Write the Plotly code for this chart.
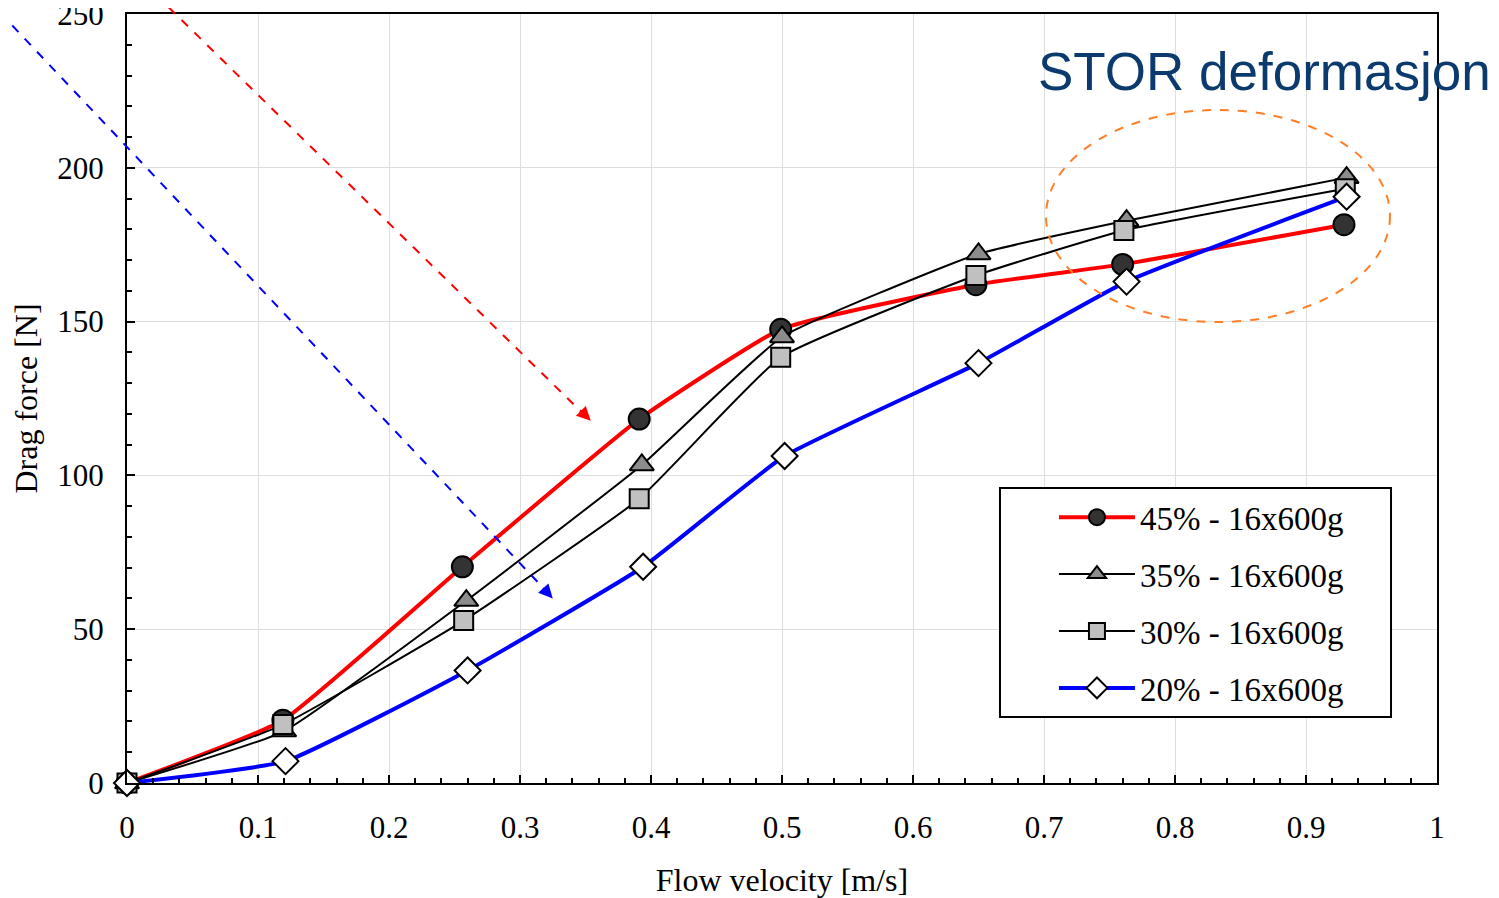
import plotly.graph_objects as go

# Data
names = ["45% - 16x600g", "35% - 16x600g", "30% - 16x600g", "20% - 16x600g"]
x45 = [0, 0.119, 0.256, 0.391, 0.499, 0.648, 0.760, 0.929]
y45 = [0, 20.4, 70.3, 118.3, 147.5, 162.0, 168.6, 181.5]
x35 = [0, 0.120, 0.259, 0.393, 0.500, 0.650, 0.763, 0.931]
y35 = [0, 16.9, 59.3, 103.4, 145.0, 172.0, 182.8, 196.8]
x30 = [0, 0.119, 0.257, 0.391, 0.499, 0.648, 0.761, 0.930]
y30 = [0, 19.0, 52.8, 92.4, 138.4, 165.0, 179.6, 193.2]
x20 = [0, 0.121, 0.260, 0.394, 0.502, 0.650, 0.763, 0.931]
y20 = [0, 7.1, 36.6, 70.3, 106.3, 136.5, 163.0, 190.6]

xs = [x45, x35, x30, x20]
ys = [y45, y35, y30, y20]
line_colors = ["#FF0000", "#000000", "#000000", "#0000FF"]
line_widths = [4, 2, 2, 4]
symbols = ["circle", "triangle-up", "square", "diamond"]
fills = ["#333333", "#8C8C8C", "#C0C0C0", "#FFFFFF"]
sizes = [21, 21, 19, 20]

serif = "Liberation Serif, Times New Roman, serif"

fig = go.Figure()
for i in range(4):
    fig.add_trace(go.Scatter(
        x=xs[i], y=ys[i], name=names[i], mode="lines+markers",
        legendgroup=f"g{i}", cliponaxis=False,
        line=dict(color=line_colors[i], width=line_widths[i], shape="spline", smoothing=0.4),
        marker=dict(symbol=symbols[i], size=sizes[i], color=fills[i],
                    line=dict(color="#000000", width=2)),
    ))

axis_common = dict(
    showline=True, linecolor="black", linewidth=2, mirror=True,
    ticks="inside", ticklen=8, tickwidth=2, tickcolor="black",
    showgrid=True, gridcolor="#DEDEDE", gridwidth=1,
    zeroline=False, automargin=False, ticklabeloverflow="allow",
    tickfont=dict(family=serif, size=31, color="black"),
)

fig.update_xaxes(
    range=[0, 1], dtick=0.1, tick0=0,
    minor=dict(dtick=0.02, ticks="inside", ticklen=5, tickwidth=2, tickcolor="black", showgrid=False),
    title=dict(text="Flow velocity [m/s]", font=dict(family=serif, size=32, color="black"), standoff=24),
    ticklabelstandoff=16,
    **axis_common,
)
fig.update_yaxes(
    range=[0, 250], dtick=50, tick0=0,
    minor=dict(dtick=10, ticks="inside", ticklen=5, tickwidth=2, tickcolor="black", showgrid=False),
    title=dict(text="Drag force [N]", font=dict(family=serif, size=32, color="black"), standoff=16),
    ticklabelstandoff=15,
    **axis_common,
)

# Dashed arrows (lines as paper shapes, heads as annotations)
fig.add_shape(type="line", xref="paper", yref="paper",
              x0=0.022, y0=1.025, x1=0.349, y1=0.479,
              line=dict(color="#FF0000", width=2, dash="dash"))
fig.add_shape(type="line", xref="paper", yref="paper",
              x0=-0.097, y0=1.002, x1=0.322, y1=0.246,
              line=dict(color="#0000FF", width=2, dash="dash"))
fig.add_annotation(xref="paper", yref="paper", x=0.354, y=0.471, ax=-12, ay=-12,
                   axref="pixel", ayref="pixel", text="", showarrow=True,
                   arrowhead=2, arrowsize=1.4, arrowwidth=2, arrowcolor="#FF0000")
fig.add_annotation(xref="paper", yref="paper", x=0.325, y=0.240, ax=-11, ay=-12,
                   axref="pixel", ayref="pixel", text="", showarrow=True,
                   arrowhead=2, arrowsize=1.4, arrowwidth=2, arrowcolor="#0000FF")

# Orange dashed ellipse
fig.add_shape(type="circle", xref="paper", yref="paper",
              x0=0.7015, x1=0.9641, y0=0.5995, y1=0.8752,
              line=dict(color="#FF7F27", width=2, dash="dash"))

# Legend frame
fig.add_shape(type="rect", xref="paper", yref="paper", layer="above",
              x0=0.6664, x1=0.9649, y0=0.0858, y1=0.3836,
              fillcolor="white", line=dict(color="black", width=2))

fig.add_annotation(xref="paper", yref="paper", x=1.0428, y=0.9246,
                   xanchor="right", yanchor="middle", showarrow=False,
                   text="STOR deformasjon",
                   font=dict(family="Liberation Sans, Arial, sans-serif", size=53, color="#0B3A6E"))

# The page body adds an 8px offset; size/margins compensate so the plot area
# lands at x 127-1437, y 14-783 in the 1499x898 window.
fig.update_layout(
    width=1491, height=890,
    margin=dict(l=119, r=62, t=6, b=115),
    paper_bgcolor="white", plot_bgcolor="white",
    showlegend=True,
    legend=dict(
        x=0.7076, y=0.382, xanchor="left", yanchor="top",
        bgcolor="rgba(0,0,0,0)", borderwidth=0,
        font=dict(family=serif, size=33, color="black"),
        itemwidth=76, tracegroupgap=11, traceorder="grouped",
    ),
)

fig.write_html("out.html")
